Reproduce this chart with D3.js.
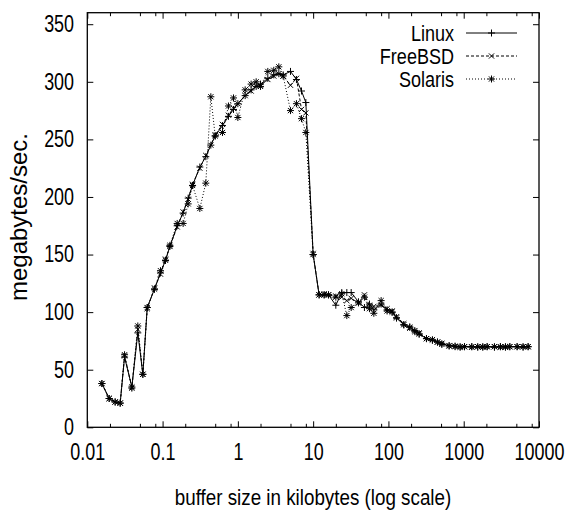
<!DOCTYPE html>
<html lang="en">
<head>
    <meta charset="UTF-8">
    <title> Buffer size throughput </title>
    <script type="text/javascript" src="https://cdn.jsdelivr.net/npm/d3@7/dist/d3.min.js"></script>
    <style type="text/css">
        body { margin: 0; background: #fff; }
        text { font-family: "Liberation Sans", Arial, Helvetica, sans-serif; fill: #000; }
    </style>
</head>
<body>
    <script type="text/javascript">
        //Buffer sizes (kilobytes)
        var sizesKB = [
            0.015625, 0.01953, 0.02344, 0.02734, 0.03125, 0.03906, 0.04688, 0.05469,
            0.0625, 0.07813, 0.09375, 0.1094, 0.125, 0.1563, 0.1875, 0.2188,
            0.25, 0.3125, 0.375, 0.4375, 0.5, 0.625, 0.75, 0.875,
            1, 1.25, 1.5, 1.75, 2, 2.5, 3, 3.5,
            4, 5, 6, 7, 8, 10, 12, 14,
            16, 20, 24, 28, 32, 40, 48, 56,
            64, 80, 96, 112, 128, 160, 192, 224,
            256, 320, 384, 448, 512, 640, 768, 896,
            1024, 1280, 1536, 1792, 2048, 2560, 3072, 3584,
            4096, 5120, 6144, 7168
        ];

        //Throughput, megabytes/sec.
        var linux = [
            38, 25, 22, 21, 61, 35, 82, 46,
            104, 120, 134, 145, 157, 175, 186, 199,
            210, 226, 235, 245, 253, 262, 270, 276,
            281, 288, 293, 296, 298, 303, 306, 307,
            306, 309, 302, 292, 282, 150, 115, 115,
            115, 106, 117, 117, 117, 109, 104, 107,
            102, 107, 102, 100, 95, 89, 87, 84,
            81, 77, 75.5, 74, 72.5, 71, 70.5, 70,
            70, 70, 69.5, 70, 70, 69.5, 70, 70,
            70, 70, 69.5, 70
        ];
        var freebsd = [
            38, 25, 22, 21, 62, 35, 85, 46,
            103, 121, 133, 146, 157, 174, 187, 198,
            211, 225, 236, 245, 254, 263, 271, 277,
            281, 288, 292, 296, 297, 302, 305, 307,
            305, 297, 303, 276, 273, 151, 115, 116,
            115, 114, 113, 110, 112, 108, 115, 106,
            105, 106, 103, 101, 96, 90, 86, 84,
            82, 77, 76, 74, 73, 71, 70.5, 70,
            70, 69.5, 70, 70, 70, 70, 69.5, 70,
            70, 70, 70, 70
        ];
        var solaris = [
            38, 25, 22, 21, 63, 34, 88, 46,
            104, 120, 136, 145, 158, 177, 177, 194,
            210, 190, 212, 287, 253, 256, 279, 286,
            269, 293, 298, 300, 296, 309, 310, 313,
            305, 275, 281, 268, 256, 150, 115, 115,
            115, 113, 116, 97, 104, 108, 113, 103,
            99, 110, 101, 100, 95, 89, 87, 83,
            81, 77, 76, 74, 72, 70.5, 70, 69.5,
            70, 70, 70, 69.5, 70, 70, 70, 69.5,
            70, 70, 70, 70
        ];

        var seriesNames = ["Linux", "FreeBSD", "Solaris"];

        //Tick values
        var xMajor = [0.01, 0.1, 1, 10, 100, 1000, 10000];
        var xMinor = [0.02, 0.05, 0.08, 0.2, 0.5, 0.8, 2, 5, 8, 20, 50, 80, 200, 500, 800, 2000, 5000, 8000];
        var yTicks = [0, 50, 100, 150, 200, 250, 300, 350];

        //Width and height
        var w = 566;
        var h = 514;
        var plotL = 87.3, plotR = 539, plotT = 12.7, plotB = 427.3;
        var tickFont = 23, tickSqueeze = 0.78;
        var keyFont = 22, keySqueeze = 0.82;

        var svg = d3.select("body")
            .append("svg")
            .attr("width", w)
            .attr("height", h);

        //Create scale functions
        var xScale = d3.scaleLog()
            .domain([0.01, 10000])
            .range([plotL, plotR]);

        var yScale = d3.scaleLinear()
            .domain([0, 360])
            .range([plotB, plotT]);

        //Axes: ticks point inward, mirrored on top and right
        svg.append("g")
            .attr("transform", "translate(0," + plotB + ")")
            .call(d3.axisBottom(xScale).tickValues(xMajor).tickSizeInner(-6).tickSizeOuter(0)
                .tickPadding(16.4).tickFormat(function(d) { return String(d); }));
        svg.append("g")
            .attr("transform", "translate(0," + plotB + ")")
            .call(d3.axisBottom(xScale).tickValues(xMinor).tickSizeInner(-3.5).tickSizeOuter(0).tickFormat(""));
        svg.append("g")
            .attr("transform", "translate(0," + plotT + ")")
            .call(d3.axisTop(xScale).tickValues(xMajor).tickSizeInner(-6).tickSizeOuter(0).tickFormat(""));
        svg.append("g")
            .attr("transform", "translate(0," + plotT + ")")
            .call(d3.axisTop(xScale).tickValues(xMinor).tickSizeInner(-3.5).tickSizeOuter(0).tickFormat(""));

        svg.append("g")
            .attr("transform", "translate(" + plotL + ",0)")
            .call(d3.axisLeft(yScale).tickValues(yTicks).tickSizeInner(-6).tickSizeOuter(0).tickPadding(17));
        svg.append("g")
            .attr("transform", "translate(" + plotR + ",0)")
            .call(d3.axisRight(yScale).tickValues(yTicks).tickSizeInner(-6).tickSizeOuter(0).tickFormat(""));

        svg.selectAll(".domain").remove();
        svg.selectAll(".tick line").attr("stroke", "#000").attr("stroke-width", 1);
        svg.selectAll(".tick text")
            .attr("font-size", tickFont + "px")
            .attr("font-family", null)
            .attr("fill", "#000")
            .attr("transform", "scale(" + tickSqueeze + ",1)");

        //Frame
        svg.append("rect")
            .attr("x", plotL)
            .attr("y", plotT)
            .attr("width", plotR - plotL)
            .attr("height", plotB - plotT)
            .attr("fill", "none")
            .attr("stroke", "#000")
            .attr("stroke-width", 1.3);

        //Marker shapes
        var plusPath = "M-3.5,0H3.5M0,-3.5V3.5";
        var crossPath = "M-2.6,-2.6L2.6,2.6M-2.6,2.6L2.6,-2.6";
        var starPath = plusPath + crossPath;

        var series = [
            { name: seriesNames[0], values: linux, dash: null, marker: plusPath },
            { name: seriesNames[1], values: freebsd, dash: "3,2", marker: crossPath },
            { name: seriesNames[2], values: solaris, dash: "1,2", marker: starPath }
        ];

        var line = d3.line()
            .x(function(d) { return xScale(d[0]); })
            .y(function(d) { return yScale(d[1]); });

        series.forEach(function(s, i) {
            var pts = sizesKB.map(function(x, j) { return [x, s.values[j]]; });

            svg.append("path")
                .datum(pts)
                .attr("d", line)
                .attr("fill", "none")
                .attr("stroke", "#000")
                .attr("stroke-width", 1)
                .attr("stroke-dasharray", s.dash);

            svg.append("g")
                .selectAll("path")
                .data(pts)
                .enter()
                .append("path")
                .attr("d", s.marker)
                .attr("transform", function(d) {
                    return "translate(" + xScale(d[0]) + "," + yScale(d[1]) + ")";
                })
                .attr("fill", "none")
                .attr("stroke", "#000")
                .attr("stroke-width", 1);

            //Legend entry
            var ly = 33 + i * 23;
            svg.append("line")
                .attr("x1", 466).attr("x2", 517)
                .attr("y1", ly).attr("y2", ly)
                .attr("stroke", "#000")
                .attr("stroke-width", 1)
                .attr("stroke-dasharray", s.dash);
            svg.append("path")
                .attr("d", s.marker)
                .attr("transform", "translate(491.5," + ly + ")")
                .attr("fill", "none")
                .attr("stroke", "#000");
            svg.append("text")
                .attr("transform", "translate(454," + (ly + 7.8) + ") scale(" + keySqueeze + ",1)")
                .attr("text-anchor", "end")
                .attr("font-size", keyFont + "px")
                .text(s.name);
        });

        //Axis titles
        svg.append("text")
            .attr("transform", "translate(313,505) scale(0.855,1)")
            .attr("text-anchor", "middle")
            .attr("font-size", "22px")
            .text("buffer size in kilobytes (log scale)");

        svg.append("text")
            .attr("transform", "translate(27,217) rotate(-90)")
            .attr("text-anchor", "middle")
            .attr("font-size", "24px")
            .text("megabytes/sec.");
    </script>
</body>
</html>
